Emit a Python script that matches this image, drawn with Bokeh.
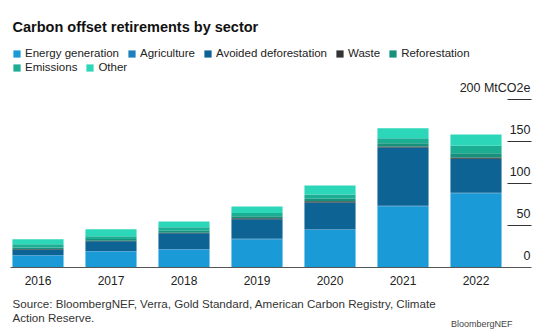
from bokeh.plotting import figure
from bokeh.models import Range1d, Legend, LegendItem, ColumnDataSource
from bokeh.core.properties import value
from bokeh.embed import file_html
from bokeh.resources import INLINE

years = ["2016", "2017", "2018", "2019", "2020", "2021", "2022"]
sectors = ["Energy generation", "Agriculture", "Avoided deforestation", "Waste",
           "Reforestation", "Emissions", "Other"]
energy = [14.3, 19.0, 21.4, 33.7, 44.9, 73.0, 88.5]
agriculture = [0.5, 0.5, 0.5, 0.5, 0.5, 0.5, 0.5]
avoided = [6.6, 11.8, 18.9, 23.3, 32.0, 69.5, 40.4]
waste = [0.5, 0.5, 0.5, 1.0, 1.5, 1.0, 1.5]
reforestation = [2.0, 2.0, 2.5, 2.5, 3.0, 4.0, 5.0]
emissions = [3.8, 3.5, 4.2, 4.0, 5.0, 6.0, 9.0]
other = [6.0, 8.3, 6.8, 7.6, 10.6, 11.8, 13.3]
colors = ["#1b9ad8", "#1d7fbd", "#0c6394", "#333333", "#17917c", "#1cae93", "#2cd6b8"]
y_ticks = [0, 50, 100, 150, 200]
y_tick_labels = ["0", "50", "100", "150", "200 MtCO2e"]

FONT = "Liberation Sans"
W, H = 550, 332
PITCH = 73.0          # px per category
X0 = 37.5             # px of first bar centre
PXU = 0.84            # px per MtCO2e
BASE = 267.0          # px of zero line from top

xs = list(range(len(years)))
src = ColumnDataSource(dict(x=xs, energy=energy, agriculture=agriculture, avoided=avoided,
                            waste=waste, reforestation=reforestation, emissions=emissions,
                            other=other))

p = figure(width=W, height=H, output_backend="svg", toolbar_location=None,
           x_range=Range1d(-X0 / PITCH, (W - X0) / PITCH),
           y_range=Range1d(-(H - BASE) / PXU, BASE / PXU),
           min_border=0, min_border_left=0, min_border_right=0,
           min_border_top=0, min_border_bottom=0)
p.axis.visible = False
p.grid.visible = False
p.outline_line_color = None
p.background_fill_color = "white"
p.border_fill_color = "white"

def px_x(px):
    return (px - X0) / PITCH

def px_y(py):
    return (BASE - py) / PXU

keys = ["energy", "agriculture", "avoided", "waste", "reforestation", "emissions", "other"]
rs = p.vbar_stack(keys, x="x", width=0.7, color=colors, source=src, line_width=0)

# baseline
p.segment(x0=[px_x(10)], y0=[0], x1=[px_x(531)], y1=[0], line_color="#555555", line_width=1)
# right tick lines
tick_vals = y_ticks[1:]
p.segment(x0=[px_x(507)] * len(tick_vals), y0=tick_vals, x1=[px_x(531)] * len(tick_vals),
          y1=tick_vals, line_color="#333333", line_width=1)
# tick labels
p.text(x=[px_x(530)] * len(y_ticks), y=y_ticks, text=y_tick_labels, text_align="right",
       text_baseline="middle", y_offset=-12, text_font=value(FONT), text_font_size="12.5px",
       text_color="#222222")
# year labels
p.text(x=xs, y=[px_y(279.5)] * len(xs), text=years, text_align="center", text_baseline="middle",
       text_font=value(FONT), text_font_size="12px", text_color="#222222")

# title
p.text(x=[px_x(12)], y=[px_y(26)], text=["Carbon offset retirements by sector"], text_align="left",
       text_baseline="middle", text_font=value(FONT), text_font_size="14.5px",
       text_font_style="bold", text_color="#111111")
# source
p.text(x=[px_x(12)] * 2, y=[px_y(303), px_y(317)],
       text=["Source: BloombergNEF, Verra, Gold Standard, American Carbon Registry, Climate",
             "Action Reserve."],
       text_align="left", text_baseline="middle", text_font=value(FONT),
       text_font_size="11.6px", text_color="#333333")
p.text(x=[px_x(512)], y=[px_y(323)], text=["BloombergNEF"], text_align="right",
       text_baseline="middle", text_font=value(FONT), text_font_size="9px",
       text_color="#444444")

def make_legend(idx, loc):
    items = [LegendItem(label=sectors[i], renderers=[rs[i]]) for i in idx]
    lg = Legend(items=items, location=loc, orientation="horizontal",
                glyph_width=9, glyph_height=9, label_standoff=4, spacing=8,
                padding=0, margin=0, label_height=12, label_text_font=FONT,
                label_text_font_size="11.5px", label_text_color="#222222",
                background_fill_alpha=0, border_line_alpha=0)
    return lg

p.add_layout(make_legend([0, 1, 2, 3, 4], (12, H - 59)))
p.add_layout(make_legend([5, 6], (12, H - 73)))

open("out.html", "w").write(file_html(p, INLINE))
